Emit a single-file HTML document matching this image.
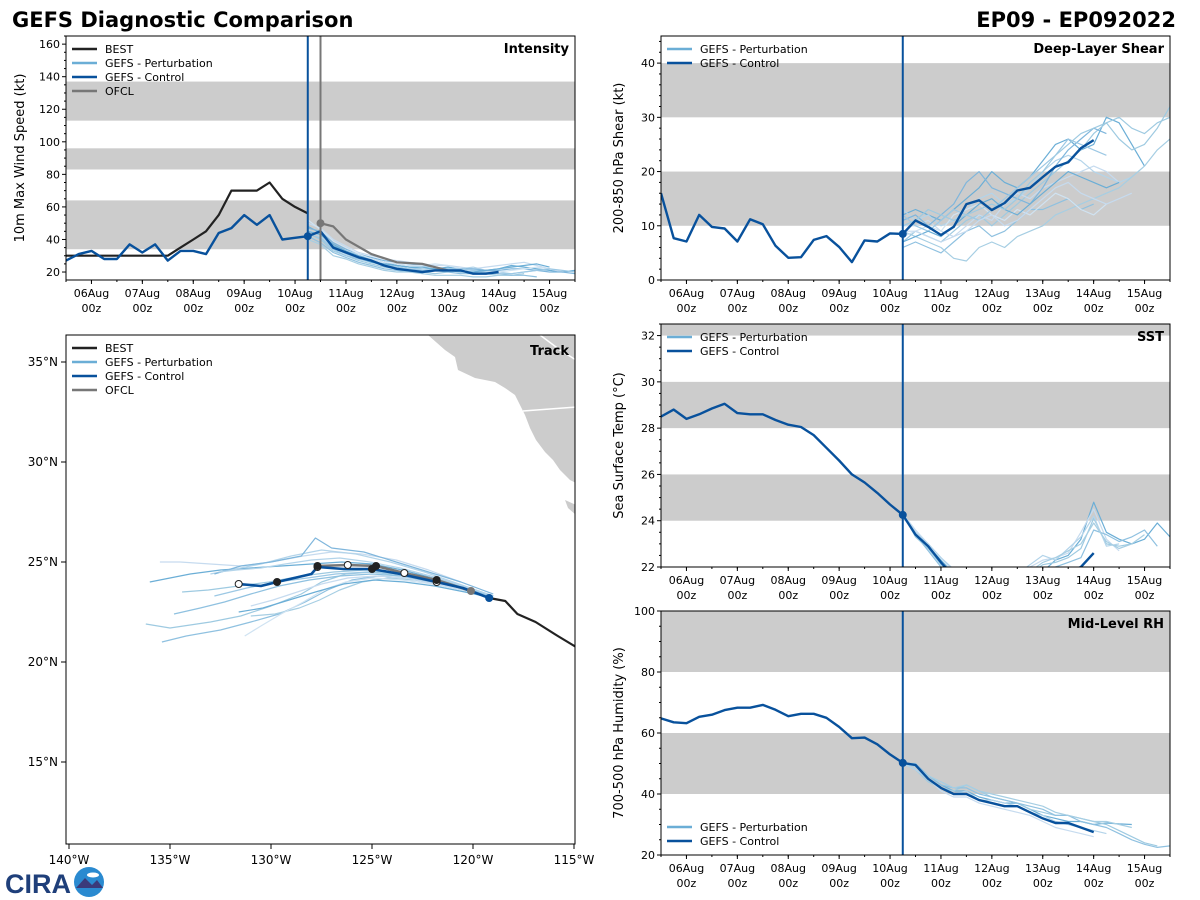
<!DOCTYPE html>
<html><head><meta charset="utf-8">
<style>
html,body{margin:0;padding:0;background:#fff;}
svg{display:block;font-family:"DejaVu Sans","Liberation Sans",sans-serif;}
</style></head>
<body>
<svg id="fig" width="1200" height="900" viewBox="0 0 1200 900" xmlns="http://www.w3.org/2000/svg">
<text x="12" y="27" font-size="21" font-weight="bold">GEFS Diagnostic Comparison</text>
<text x="1176" y="27" font-size="21" font-weight="bold" text-anchor="end">EP09 - EP092022</text>
<g>
<text x="5" y="893" font-size="27" font-weight="bold" fill="#1f3f7a" font-family="Liberation Sans, sans-serif">CIRA</text>
<circle cx="89" cy="882" r="15" fill="#2a8ad0"/>
<path d="M76 888 L85 878 L92 885 L97 880 L103 888 Z" fill="#3b3a7a"/>
<ellipse cx="93" cy="875" rx="6" ry="2.5" fill="#fff"/>
</g>
<g id="plots"></g>
</svg>
<script>
// ---------- data ----------
// 6-hourly steps; analysis series start at 05Aug 12z, forecast series start at 10Aug 06z (step 19)
var intensityControl = [27,31,33,28,28,37,32,37,27,33,33,31,44,47,55,49,55,40,41,42,45,35,32,29,27,24,22,21,20,21,21,21,19,19,20];
var intensityBest = [30,30,30,30,30,30,30,30,30,35,40,45,55,70,70,70,75,65,60,56];
var ofclStep = [20,21,22,24,26,28,30];
var ofclIntensity = [50,48,40,31,26,25,21];
var intensityMembers = [
 [48,44,36,33,30,28,26,24,23,22,22,23,22,21,21,22,24,23,22,21,20,21],
 [44,40,33,30,27,25,23,22,21,20,19,20,21,20,19,18,18,19],
 [50,47,40,36,32,30,28,27,26,25,24,24,23,22,23,24,25,26,24,22,20],
 [42,38,32,29,26,24,22,21,20,20,21,20,19,19,20,19,18,18,17],
 [46,42,35,31,28,27,25,23,22,22,21,21,22,23,21,20,19,20,21],
 [40,37,30,28,25,23,21,20,20,19,18,18,18,17,17,18],
 [47,45,38,34,31,29,27,26,25,24,23,22,22,22,21,21,22,22,21,20,20,19],
 [52,46,39,35,31,28,26,25,24,24,25,24,22,21,20,20,21,22,23,22],
 [43,41,34,30,28,26,24,23,22,21,21,22,22,21,20,19,19,20,21,22,21,20],
 [45,43,37,33,29,26,25,24,23,23,22,21,20,20,21,22,23,24,25,23]
];
var shearControl = [16,7.7,7.1,12,9.8,9.5,7.1,11.2,10.3,6.3,4.1,4.2,7.4,8.1,6.1,3.3,7.3,7.1,8.6,8.5,11,9.8,8.3,9.8,14,14.7,12.9,14.2,16.5,17,19,20.9,21.7,24.3,25.8];
var shearMembers = [
 [12,13,12,11,13,15,17,20,18,17,19,22,25,26,24,25,30,29,25,21],
 [7,9,8,7,9,11,12,10,12,14,16,18,20,22,24,27,29,26,24,25,28,32],
 [10,10,11,9,8,10,12,11,14,16,15,17,18,19,20,21,20,18],
 [6,7,6,5,7,9,10,8,9,11,13,13,14,15,13,14],
 [13,11,12,10,11,13,15,16,14,15,17,20,22,23,22,20,19,18,19],
 [9,8,7,6,4,3.5,6,7,6,8,9,10,12,13,14,15,16,17,19,21,24,26,25],
 [11,12,10,12,14,18,20,17,16,15,14,17,21,24,26,28,27],
 [8,9,10,9,12,13,14,12,11,13,12,14,16,15,13,12,14],
 [12,10,9,11,13,12,11,13,15,17,19,21,23,26,25,24,23],
 [7,8,9,8,10,12,14,15,13,12,14,16,18,20,19,18,17,18],
 [10,11,13,12,11,12,13,14,13,15,18,20,23,25,27,28,29,30,28,27,29,30],
 [9,9,8,7,8,9,11,12,10,11,13,15,17,18,16,15,14,15,16]
];
var sstControl = [28.5,28.8,28.4,28.6,28.85,29.05,28.65,28.6,28.6,28.35,28.15,28.05,27.7,27.15,26.6,26.0,25.65,25.2,24.7,24.25,23.4,22.9,22.2,21.6,21.2,21.0,20.9,20.9,21.0,21.2,21.4,21.6,21.8,22.0,22.6];
var sstMembers = [
 [24.2,23.5,22.9,22.3,21.7,21.2,21,21,21,21.2,21.5,21.8,22.3,22.5,23.2,24.8,23.5,23.2,23,23.2,23.9,23.3,23.3],
 [24.3,23.3,22.8,22.1,21.6,21.1,20.9,20.8,20.9,21.3,21.7,22.1,22.2,22.4,22.8,24.1,23,22.9,23],
 [24.3,23.6,23,22.4,21.8,21.3,21.2,21.2,21.4,21.6,22.0,22.3,22.4,22.6,23.5,24.5,23.2,22.7],
 [24.2,23.4,22.7,22.0,21.5,21,20.8,20.7,20.8,21.0,21.4,21.8,22.0,22.2,22.4,23.6,23.4,23.1,23.3,23.6,22.9],
 [24.3,23.5,23.0,22.4,21.9,21.5,21.3,21.3,21.5,21.7,22.1,22.5,22.3,22.8,23.3,24.2,22.9,23.0],
 [24.2,23.4,22.8,22.2,21.7,21.3,21.1,21.0,21.1,21.4,21.8,22.2,22.4,22.7,23.0,23.9,23.1,22.8,23.0,23.4]
];
var rhControl = [64.8,63.5,63.2,65.3,66,67.5,68.3,68.3,69.2,67.6,65.5,66.3,66.3,65,62,58.3,58.5,56.3,53,50.2,49.5,45,42,40,40,38,37,36,36,34,32,30.5,30.5,29,27.5];
var rhMembers = [
 [50,49,46,43,41,41,39,38,37,37,35,33,32,31,31,30,30.5,30.2,30],
 [50,48,44,42,41,43,41,39,38,37,35,34,33,33,32,31,30,28,26,24,23],
 [50,49,45,41,39,39,37,36,35,34,33,31,29,28,27,26],
 [50,50,46,43,42,42,40,39,38,37,36,35,33,33,31,30,29,27,25,23.5,22.5,23,22],
 [50,48,45,42,40,41,38,38,37,36,34,33,31,30,29,28,27],
 [50,49,46,44,42,43,41,40,39,38,37,36,34,33,32,31,31,30,29]
];
var trackBestLon = [-119.2,-118.4,-117.8,-116.9,-115.8,-114.9];
var trackBestLat = [23.2,23.05,22.4,22.0,21.3,20.75];
var trackCtrlLon = [-119.2,-120.5,-121.8,-123.6,-125.0,-126.4,-127.7,-128.0,-129.7,-130.5,-131.6];
var trackCtrlLat = [23.2,23.7,24.0,24.4,24.65,24.65,24.75,24.4,24.0,23.8,23.9];
var trackOfclLon = [-120.1,-121.8,-123.4,-124.8,-126.2,-127.7];
var trackOfclLat = [23.55,24.1,24.45,24.8,24.85,24.8];
var trackMemLon = [
 [-119,-120.5,-122,-123.5,-125,-126.5,-128,-129.5,-131,-132.5,-134,-136],
 [-119,-120.5,-122,-123.5,-125,-126.3,-127.5,-128.5,-130,-131.5,-133,-135,-136.2],
 [-119,-120.6,-122.2,-123.8,-125.5,-127,-128.4,-130,-131.5,-133,-134.5,-135.5],
 [-119,-120.4,-121.8,-123.2,-124.7,-126,-127.2,-128.3,-129.6,-131,-132.5,-134.2,-135.4],
 [-119,-120.7,-122.4,-124.1,-125.8,-127.5,-129,-130.5,-132,-133],
 [-119,-120.3,-121.6,-122.9,-124.2,-125.5,-126.6,-127.6,-128.6,-129.8,-131],
 [-119,-120.6,-122.2,-123.8,-125.4,-127,-127.8,-128.5,-130,-131.5,-132.8],
 [-119,-120.5,-122,-123.5,-125,-126.3,-127.4,-128.4,-129.5,-130.5,-131.3],
 [-119,-120.5,-122,-123.6,-125.2,-126.8,-128.2,-129.7,-131.2,-132.8],
 [-119,-120.4,-121.9,-123.4,-124.9,-126.4,-127.8,-129.1,-130.4,-131.6],
 [-119,-120.6,-122.1,-123.7,-125.3,-126.9,-128.5,-130.1,-131.6,-133.1,-134.4],
 [-119,-120.4,-121.8,-123.3,-124.8,-126.2,-127.5,-128.7,-129.9,-131.0],
 [-119,-120.5,-122.0,-123.5,-125.0,-126.6,-128.1,-129.6,-131.0,-132.3,-133.5,-134.8],
 [-119,-120.5,-122.1,-123.6,-125.1,-126.6,-128.0,-129.3,-130.5,-131.7,-132.6]
];
var trackMemLat = [
 [23.3,23.8,24.2,24.6,24.9,25.0,24.9,24.8,24.7,24.6,24.4,24.0],
 [23.2,23.6,23.9,24.3,24.5,24.4,24.0,23.4,22.8,22.3,22.0,21.7,21.9],
 [23.4,24.0,24.6,25.1,25.4,25.5,25.3,25.0,24.8,24.9,25.0,25.0],
 [23.2,23.7,24.0,24.2,24.3,24.1,23.6,23.0,22.4,22.0,21.6,21.3,21.0],
 [23.3,23.9,24.5,25.0,25.4,25.6,25.3,24.9,24.6,24.4],
 [23.2,23.6,23.9,24.1,24.2,24.0,23.6,23.1,22.7,22.4,22.3],
 [23.4,24.0,24.5,25.0,25.5,25.7,26.2,25.3,25.0,24.8,24.4],
 [23.3,23.6,23.9,24.1,24.2,24.0,23.6,23.0,22.4,21.8,21.3],
 [23.3,23.8,24.2,24.4,24.5,24.4,24.2,24.0,23.7,23.3],
 [23.2,23.5,23.8,24.0,24.1,23.9,23.5,23.1,22.7,22.5],
 [23.3,23.7,24.1,24.4,24.6,24.5,24.3,24.0,23.8,23.6,23.5],
 [23.2,23.6,23.9,24.2,24.3,24.2,23.9,23.5,23.1,22.8],
 [23.3,23.7,24.0,24.3,24.4,24.3,24.1,23.8,23.4,23.0,22.7,22.4],
 [23.3,23.8,24.3,24.7,25.0,25.2,25.1,24.9,24.7,24.6,24.5]
];
var dayLabels = ['06Aug','07Aug','08Aug','09Aug','10Aug','11Aug','12Aug','13Aug','14Aug','15Aug'];
var lonTicks = [-140,-135,-130,-125,-120,-115];
var latTicks = [15,20,25,30,35];

// ---------- rendering ----------
var NS = 'http://www.w3.org/2000/svg';
var root = document.getElementById('plots');
function mk(tag, a, parent){ var e=document.createElementNS(NS,tag); for(var k in a) e.setAttribute(k,a[k]); (parent||root).appendChild(e); return e; }
var DAY = 50.9, STEP = DAY/4;
var memColors = ['#6baed6','#9ecae1','#c6dbef','#8fc1e0','#b3d4ea','#a6cee3','#7fb6dc','#d0e3f2','#9cc8e4'];
var CTRL = '#08519c';

function panel(p){
  var g = mk('g',{});
  
  
  var x = function(step){ return p.x0 + step*STEP; };
  var y = function(v){ return p.y1 - (v - p.vmin)/(p.vmax - p.vmin)*(p.y1 - p.y0); };
  var cp = mk('clipPath',{id:'clip-'+p.name}, g);
  mk('rect',{x:p.x0,y:p.y0,width:p.x1-p.x0,height:p.y1-p.y0}, cp);
  p.bands.forEach(function(b){
    var r = mk('rect',{x:p.x0,y:y(Math.min(b[1],p.vmax)),width:p.x1-p.x0,height:y(b[0])-y(Math.min(b[1],p.vmax)),fill:'#cccccc'}, g);
    
    
  });
  var pg = mk('g',{'clip-path':'url(#clip-'+p.name+')'}, g);
  function line(vals, start, color, w, nm){
    var d = vals.map(function(v,i){ return (i?'L':'M')+x(start+i).toFixed(1)+' '+y(v).toFixed(1); }).join(' ');
    var l = mk('path',{d:d,fill:'none',stroke:color,'stroke-width':w,'stroke-linejoin':'round'}, pg);
    
    
    return l;
  }
  p.members.forEach(function(m,i){ line(m, 19, memColors[i%memColors.length], 1.2, 'ensemble-member-line'); });
  if(p.best) line(p.best, 0, '#222', 2.2, 'best-track-line');
  if(p.ofcl) {
    var d = p.ofcl.map(function(v,i){ return (i?'L':'M')+x(p.ofclStep[i]).toFixed(1)+' '+y(v).toFixed(1); }).join(' ');
    var o = mk('path',{d:d,fill:'none',stroke:'#777','stroke-width':2.2}, pg);
    
    
    var od = mk('circle',{cx:x(p.ofclStep[0]),cy:y(p.ofcl[0]),r:4,fill:'#777'}, pg);
    
    
  }
  line(p.ctrl, 0, CTRL, 2.4, 'control-line');
  var vl = mk('line',{x1:x(19),x2:x(19),y1:p.y0,y2:p.y1,stroke:CTRL,'stroke-width':2}, g);
  
  
  if(p.ofcl){
    var vg = mk('line',{x1:x(20),x2:x(20),y1:p.y0,y2:p.y1,stroke:'#777','stroke-width':2}, g);
    
    
  }
  if(p.ctrl[19] >= p.vmin){
    var dot = mk('circle',{cx:x(19),cy:y(p.ctrl[19]),r:4,fill:CTRL}, g);
    
    
  }
  var fr = mk('rect',{x:p.x0,y:p.y0,width:p.x1-p.x0,height:p.y1-p.y0,fill:'none',stroke:'#000','stroke-width':1}, g);
  
  
  // y ticks
  var nStart = Math.ceil(p.vmin/p.minor - 1e-6), nEnd = Math.floor(p.vmax/p.minor + 1e-6);
  for(var n=nStart; n<=nEnd; n++){
    var v = Math.round(n*p.minor*1000)/1000;
    var q = (v - p.tick0)/p.major;
    var major = v >= p.tick0 - 1e-6 && Math.abs(q - Math.round(q)) < 1e-6;
    var yy = y(v);
    mk('line',{x1:p.x0-(major?4:2),x2:p.x0,y1:yy,y2:yy,stroke:'#000'}, g);
    if(major){
      var t = mk('text',{x:p.x0-6,y:yy+4,'font-size':11,'text-anchor':'end'}, g);
      t.textContent = v;
      
      
    }
  }
  // x ticks
  dayLabels.forEach(function(lb,i){
    var xx = x(2 + i*4);
    mk('line',{x1:xx,x2:xx,y1:p.y1,y2:p.y1+4,stroke:'#000'}, g);
    var t = mk('text',{x:xx,y:p.y1+17,'font-size':11,'text-anchor':'middle'}, g);
    t.textContent = lb;
    
    
    var t2 = mk('text',{x:xx,y:p.y1+32,'font-size':11,'text-anchor':'middle'}, g);
    t2.textContent = '00z';
    
    
  });
  for(var s=0; s<=40; s+=2){ var xm=x(s); if(xm>p.x1) break; mk('line',{x1:xm,x2:xm,y1:p.y1,y2:p.y1+2,stroke:'#000'}, g); }
  var yt = mk('text',{x:0,y:0,'font-size':13,'text-anchor':'middle',transform:'translate('+p.ylx+','+((p.y0+p.y1)/2)+') rotate(-90)'}, g);
  yt.textContent = p.ylabel;
  
  
  var pt = mk('text',{x:p.x1-6,y:p.y0+17,'font-size':13,'font-weight':'bold','text-anchor':'end'}, g);
  pt.textContent = p.title;
  
  
  legend(g, p.lx, p.ly, p.legend);
}
function legend(g, lx, ly, items){
  items.forEach(function(it,i){
    var yy = ly + i*14;
    var l = mk('line',{x1:lx,x2:lx+25,y1:yy,y2:yy,stroke:it[1],'stroke-width':2.5}, g);
    
    
    var t = mk('text',{x:lx+33,y:yy+4,'font-size':11}, g);
    t.textContent = it[0];
    
    
  });
}
var L4 = [['BEST','#222'],['GEFS - Perturbation','#6baed6'],['GEFS - Control',CTRL],['OFCL','#777']];
var L2 = [['GEFS - Perturbation','#6baed6'],['GEFS - Control',CTRL]];

panel({name:'intensity-panel',x0:66,x1:575,y0:36,y1:280,vmin:15.1,vmax:165,tick0:20,major:20,minor:5,
  bands:[[34,64],[83,96],[113,137]],ctrl:intensityControl,best:intensityBest,ofcl:ofclIntensity,ofclStep:ofclStep,
  members:intensityMembers,ylabel:'10m Max Wind Speed (kt)',ylx:24,title:'Intensity',legend:L4,lx:72,ly:49});
panel({name:'shear-panel',x0:661,x1:1170,y0:36,y1:280,vmin:0,vmax:45,tick0:0,major:10,minor:2,
  bands:[[10,20],[30,40]],ctrl:shearControl,members:shearMembers,ylabel:'200-850 hPa Shear (kt)',ylx:623,title:'Deep-Layer Shear',legend:L2,lx:667,ly:49});
panel({name:'sst-panel',x0:661,x1:1170,y0:324,y1:567,vmin:22,vmax:32.5,tick0:22,major:2,minor:0.5,
  bands:[[24,26],[28,30],[32,33]],ctrl:sstControl,members:sstMembers,ylabel:'Sea Surface Temp (\u00B0C)',ylx:623,title:'SST',legend:L2,lx:667,ly:337});
panel({name:'rh-panel',x0:661,x1:1170,y0:611,y1:855,vmin:20,vmax:100,tick0:20,major:20,minor:5,
  bands:[[40,60],[80,100]],ctrl:rhControl,members:rhMembers,ylabel:'700-500 hPa Humidity (%)',ylx:623,title:'Mid-Level RH',legend:L2,lx:667,ly:827});

// ---------- track map ----------
(function(){
  var X0=66,X1=575,Y0=335,Y1=844;
  var lx = function(lon){ return 69 + (lon+140)*20.2; };
  var ly = function(lat){ return 562 - (lat-25)*20; };
  var g = mk('g',{});
  
  
  var cp = mk('clipPath',{id:'clip-track'}, g);
  mk('rect',{x:X0,y:Y0,width:X1-X0,height:Y1-Y0}, cp);
  var pg = mk('g',{'clip-path':'url(#clip-track)'}, g);
  var land = mk('path',{d:'M428 335 L445 350 L455 357 L458 370 L475 378 L495 382 L505 388 L515 395 L520 405 L525 415 L530 428 L536 440 L545 452 L553 460 L560 470 L570 480 L576 483 L576 335 Z M565 500 L576 505 L576 515 L568 508 Z',fill:'#cccccc'}, pg);
  
  
  var bd = mk('path',{d:'M523 411 L576 407 M540 335 L560 350 L576 360',stroke:'#fff','stroke-width':1.5,fill:'none'}, pg);
  
  
  function path(lons,lats,color,w,nm){
    var d = lons.map(function(v,i){ return (i?'L':'M')+lx(v).toFixed(1)+' '+ly(lats[i]).toFixed(1); }).join(' ');
    var p = mk('path',{d:d,fill:'none',stroke:color,'stroke-width':w,'stroke-linejoin':'round'}, pg);
    
    
  }
  trackMemLon.forEach(function(m,i){ path(m, trackMemLat[i], memColors[i%memColors.length], 1.2, 'ensemble-member-track'); });
  path(trackBestLon, trackBestLat, '#222', 2.2, 'best-track');
  path(trackOfclLon, trackOfclLat, '#777', 2.6, 'ofcl-track');
  path(trackCtrlLon, trackCtrlLat, CTRL, 2.6, 'control-track');
  trackCtrlLon.forEach(function(v,i){
    if(i===0 || i%2) return;
    var c = mk('circle',{cx:lx(v),cy:ly(trackCtrlLat[i]),r:3.5,fill:(i%4===0?'#222':'#fff'),stroke:'#222','stroke-width':1}, pg);
    
    
  });
  trackOfclLon.forEach(function(v,i){
    var c = mk('circle',{cx:lx(v),cy:ly(trackOfclLat[i]),r:3.5,fill:(i===0?'#777':(i%2?'#222':'#fff')),stroke:(i===0?'#777':'#222'),'stroke-width':1}, pg);
    
    
  });
  var st = mk('circle',{cx:lx(trackCtrlLon[0]),cy:ly(trackCtrlLat[0]),r:4,fill:CTRL}, pg);
  
  
  var fr = mk('rect',{x:X0,y:Y0,width:X1-X0,height:Y1-Y0,fill:'none',stroke:'#000'}, g);
  
  
  lonTicks.forEach(function(v){
    var xx=lx(v);
    mk('line',{x1:xx,x2:xx,y1:Y1,y2:Y1+5,stroke:'#000'}, g);
    var t = mk('text',{x:xx,y:Y1+20,'font-size':12,'text-anchor':'middle'}, g);
    t.textContent = Math.abs(v)+'\u00B0W';
    
    
  });
  latTicks.forEach(function(v){
    var yy=ly(v);
    mk('line',{x1:X0-5,x2:X0,y1:yy,y2:yy,stroke:'#000'}, g);
    var t = mk('text',{x:X0-8,y:yy+4,'font-size':12,'text-anchor':'end'}, g);
    t.textContent = v+'\u00B0N';
    
    
  });
  var tt = mk('text',{x:X1-6,y:Y0+20,'font-size':13,'font-weight':'bold','text-anchor':'end'}, g);
  tt.textContent = 'Track';
  
  
  legend(g, 72, 348, L4);
})();
</script>
</body></html>
